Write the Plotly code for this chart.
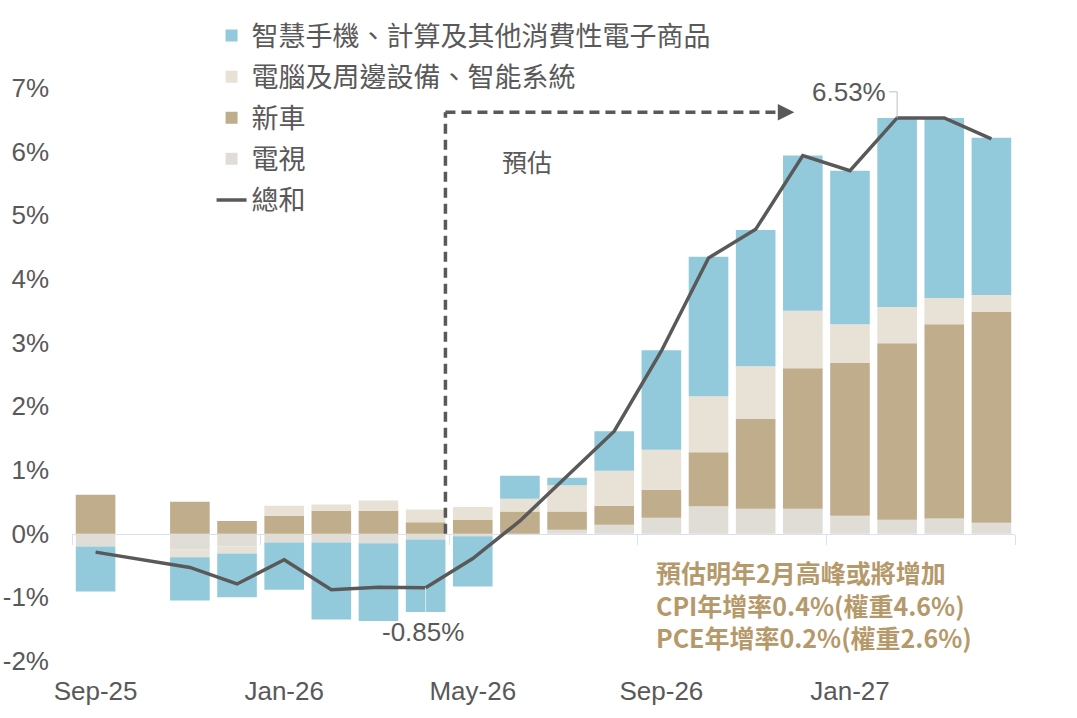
import plotly.graph_objects as go

months = ["Sep-25", "Oct-25", "Nov-25", "Dec-25", "Jan-26", "Feb-26", "Mar-26", "Apr-26",
          "May-26", "Jun-26", "Jul-26", "Aug-26", "Sep-26", "Oct-26", "Nov-26", "Dec-26",
          "Jan-27", "Feb-27", "Mar-27", "Apr-27"]
tick_labels = ["Sep-25", "Jan-26", "May-26", "Sep-26", "Jan-27"]

tv = [-0.20, None, -0.25, -0.20, -0.14, -0.14, -0.15, -0.09, -0.04, 0.00, 0.06, 0.14,
      0.25, 0.43, 0.39, 0.39, 0.28, 0.22, 0.24, 0.17]
car = [0.61, None, 0.50, 0.20, 0.28, 0.36, 0.36, 0.18, 0.22, 0.35, 0.29, 0.30,
       0.44, 0.85, 1.41, 2.21, 2.40, 2.77, 3.05, 3.31]
pc = [0.00, None, -0.12, -0.11, 0.16, 0.10, 0.16, 0.20, 0.20, 0.20, 0.41, 0.55,
      0.63, 0.88, 0.83, 0.90, 0.61, 0.57, 0.41, 0.27]
phone = [-0.71, None, -0.68, -0.69, -0.74, -1.21, -1.22, -1.14, -0.79, 0.36, 0.12, 0.62,
         1.56, 2.19, 2.14, 2.44, 2.41, 2.97, 2.83, 2.47]
total = [-0.29, None, -0.53, -0.79, -0.41, -0.88, -0.84, -0.85, -0.39, 0.20, 0.90, 1.61,
         2.87, 4.33, 4.78, 5.94, 5.70, 6.53, 6.53, 6.20]

names = {
    "phone": "智慧手機、計算及其他消費性電子商品",
    "pc": "電腦及周邊設備、智能系統",
    "car": "新車",
    "tv": "電視",
    "total": "總和",
}
colors = {"phone": "#92CADC", "pc": "#E7E1D6", "car": "#BFAD8C", "tv": "#E0DDD7", "total": "#595959"}

GRAY = "#595959"
CJK = "Noto Sans CJK TC, Noto Sans CJK SC, sans-serif"
LAT = "Liberation Sans, Arial, sans-serif"

fig = go.Figure()
for key, vals, rank in [("tv", tv, 4), ("car", car, 3), ("pc", pc, 2), ("phone", phone, 1)]:
    fig.add_trace(go.Bar(x=months, y=vals, name=names[key], marker_color=colors[key],
                         marker_line_width=0, legendrank=rank, legendgroup=key))
fig.add_trace(go.Scatter(x=months, y=total, name=names["total"], mode="lines",
                         line=dict(color=colors["total"], width=3.5), connectgaps=True,
                         legendrank=5, legendgroup="total"))
# helper trace so the zero-axis overlay renders
fig.add_trace(go.Scatter(x=[None], y=[None], xaxis="x2", yaxis="y", showlegend=False,
                         hoverinfo="skip"))

n = len(months)
bounds = [i - 0.5 for i in range(0, n + 1, 4)]

fig.update_layout(
    width=1077, height=718,
    margin=dict(l=72, r=62, t=88, b=57),
    paper_bgcolor="white", plot_bgcolor="white",
    barmode="relative", bargap=0.16,
    showlegend=True,
    legend=dict(x=0.148, y=1.1335, xanchor="left", yanchor="top",
                font=dict(family=CJK, size=27, color=GRAY),
                traceorder="grouped", tracegroupgap=3, bgcolor="rgba(0,0,0,0)"),
    xaxis=dict(type="category", range=[-0.5, n - 0.5], tickvals=tick_labels,
               ticktext=tick_labels, showline=False, ticks="", showgrid=False,
               automargin=False,
               tickfont=dict(family=LAT, size=26, color=GRAY), ticklabelstandoff=12),
    xaxis2=dict(overlaying="x", anchor="free", position=2 / 9, type="linear",
                range=[-0.5, n - 0.5], tickvals=bounds, ticks="outside", ticklen=10,
                tickcolor="#D9E1EA", showline=True, linecolor="#D9E1EA", linewidth=1,
                showticklabels=False, showgrid=False, zeroline=False, layer="below traces",
                automargin=False),
    yaxis=dict(range=[-2, 7], tickvals=list(range(-2, 8)),
               ticktext=[f"{v}%" for v in range(-2, 8)], showgrid=False, zeroline=False,
               showline=False, ticks="", tickfont=dict(family=LAT, size=26, color=GRAY),
               ticklabelstandoff=22, automargin=False),
    font=dict(family=LAT, color=GRAY),
)

# forecast dashed boundary with arrow
xv, ytop, xarrow = 7.42, 6.62, 14.82
dash = dict(color=GRAY, width=3.5, dash="10px,6px")
fig.add_shape(type="line", xref="x", yref="y", x0=xv, x1=xv, y0=0, y1=ytop, line=dash)
fig.add_shape(type="line", xref="x", yref="y", x0=xv, x1=xarrow - 0.25, y0=ytop, y1=ytop, line=dash)
fig.add_annotation(x=xarrow, y=ytop, ax=xarrow - 0.3, ay=ytop, axref="x", ayref="y",
                   xref="x", yref="y", text="", showarrow=True, arrowhead=2,
                   arrowsize=1.1, arrowwidth=3, arrowcolor=GRAY)
fig.add_annotation(x=9.14, y=5.85, xref="x", yref="y", text="預估", showarrow=False,
                   font=dict(family=CJK, size=25, color=GRAY))

# peak label
fig.add_annotation(x=15.97, y=6.93, xref="x", yref="y", text="6.53%", showarrow=False,
                   font=dict(family=LAT, size=26, color=GRAY))
lead = dict(color="#BFBFBF", width=1)
fig.add_shape(type="line", xref="x", yref="y", x0=16.83, x1=17.0, y0=6.94, y1=6.94, line=lead)
fig.add_shape(type="line", xref="x", yref="y", x0=17.0, x1=17.0, y0=6.94, y1=total[17], line=lead)

# trough label
fig.add_shape(type="line", xref="x", yref="y", x0=7, x1=7, y0=total[7], y1=-1.24,
              line=dict(color="#D6EAF0", width=1))
fig.add_annotation(x=6.95, y=-1.54, xref="x", yref="y", text="-0.85%", showarrow=False,
                   font=dict(family=LAT, size=26, color=GRAY))

# note
fig.add_annotation(x=11.85, y=-1.115, xref="x", yref="y", xanchor="left", yanchor="middle",
                   align="left", showarrow=False,
                   text="預估明年2月高峰或將增加<br>CPI年增率0.4%(權重4.6%)<br>PCE年增率0.2%(權重2.6%)",
                   font=dict(family=CJK, size=25, color="#B5996A", weight="bold"))

fig.write_html("out.html")
